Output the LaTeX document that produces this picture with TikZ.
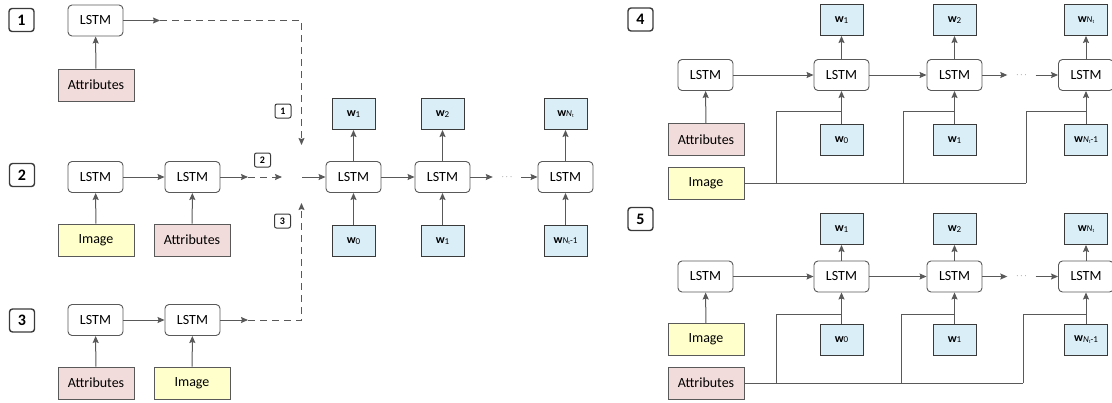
\documentclass[tikz,border=0pt]{standalone}
\usepackage{fontspec}
\setmainfont{Carlito}
\usetikzlibrary{arrows.meta}

\definecolor{edge}{HTML}{595959}
\definecolor{frame}{HTML}{3A3A3A}
\definecolor{attrfill}{HTML}{F2DCDB}
\definecolor{imgfill}{HTML}{FFFFCC}
\definecolor{wfill}{HTML}{DAEEF8}

% word tokens: w with an index
\newcommand{\wl}[1]{\textbf{w}\raisebox{-0.6pt}{\fontsize{9}{10}\selectfont #1}}
\newcommand{\wN}{\textbf{w}\raisebox{-0.6pt}{\fontsize{9}{10}\selectfont\textit{N}\raisebox{-1pt}{\fontsize{5}{6}\selectfont t}}}
\newcommand{\wNm}{\textbf{w}\raisebox{-0.6pt}{\fontsize{9}{10}\selectfont\textit{N}\raisebox{-1pt}{\fontsize{5}{6}\selectfont t}-1}}

\begin{document}
\begin{tikzpicture}[x=1pt,y=-1pt,
  lstm/.style={draw=edge, line width=0.9pt, rounded corners=4pt, fill=white,
    minimum width=55pt, minimum height=31pt, inner sep=0pt,
    font=\fontsize{14}{16}\selectfont},
  attrbox/.style={draw=edge, line width=0.9pt, fill=attrfill,
    minimum width=76pt, minimum height=32pt, inner sep=0pt,
    font=\fontsize{14}{16}\selectfont},
  imgbox/.style={attrbox, fill=imgfill},
  wbox/.style={draw=frame, line width=0.9pt, fill=wfill,
    minimum width=43pt, minimum height=31pt, inner sep=0pt,
    font=\fontsize{12}{14}\selectfont},
  biglab/.style={draw=frame, line width=1.4pt, rounded corners=3pt,
    minimum width=25pt, minimum height=23pt, inner sep=0pt,
    font=\fontsize{16}{18}\selectfont\bfseries},
  smlab/.style={draw=frame, line width=1pt, rounded corners=2pt,
    minimum width=16pt, minimum height=14pt, inner sep=0pt,
    font=\fontsize{10}{12}\selectfont\bfseries},
  dotsnode/.style={minimum width=28pt, inner sep=0pt, text=edge,
    font=\fontsize{9}{10}\selectfont},
  conn/.style={draw=edge, line width=1pt, -{Stealth[length=7pt,width=6pt,inset=1pt]}},
  wire/.style={draw=edge, line width=1pt},
  dashline/.style={draw=edge, line width=1pt, dash pattern=on 7pt off 5pt},
  dasharrow/.style={dashline, -{Stealth[length=7pt,width=6pt,inset=1pt]}}
]
\useasboundingbox (0,0) rectangle (1112,402);

% ---------- variant 1 ----------
\node[biglab] (n1) at (21.5,20) {1};
\node[lstm] (a1l) at (95.5,20.5) {LSTM};
\node[attrbox] (a1a) at (96,85) {Attributes};
\draw[conn] (a1a) -- (a1l);

% ---------- variant 2 ----------
\node[biglab] (n2) at (22,175) {2};
\node[lstm] (a2l1) at (95.5,177) {LSTM};
\node[lstm] (a2l2) at (192.5,177) {LSTM};
\node[imgbox] (a2i) at (96,240) {Image};
\node[attrbox] (a2a) at (192,240) {Attributes};
\draw[conn] (a2i) -- (a2l1);
\draw[conn] (a2a) -- (a2l2);
\draw[conn] (a2l1) -- (a2l2);

% ---------- variant 3 ----------
\node[biglab] (n3) at (22,320.5) {3};
\node[lstm] (a3l1) at (95.5,320) {LSTM};
\node[lstm] (a3l2) at (192.5,320) {LSTM};
\node[attrbox] (a3a) at (96,383) {Attributes};
\node[imgbox] (a3i) at (192,383) {Image};
\draw[conn] (a3a) -- (a3l1);
\draw[conn] (a3i) -- (a3l2);
\draw[conn] (a3l1) -- (a3l2);

% ---------- shared decoder ----------
\node[lstm] (m1) at (353.5,177) {LSTM};
\node[lstm] (m2) at (442.5,177) {LSTM};
\node[lstm] (m3) at (565.5,177) {LSTM};
\node[wbox] (mt1) at (353.5,114) {\wl{1}};
\node[wbox] (mt2) at (442.5,114) {\wl{2}};
\node[wbox] (mt3) at (565.5,114) {\wN};
\node[wbox] (mb1) at (353.5,241) {\wl{0}};
\node[wbox] (mb2) at (442.5,241) {\wl{1}};
\node[wbox] (mb3) at (565.5,241) {\wNm};
\node[dotsnode] (mdots) at (507,177) {$\cdots$};
\foreach \i in {1,2,3}{
  \draw[conn] (m\i) -- (mt\i);
  \draw[conn] (mb\i) -- (m\i);
}
\draw[conn] (m1) -- (m2);
\draw[conn] (m2) -- (mdots);
\draw[conn] (mdots) -- (m3);

% feeds from the three encoders
\coordinate (c1a) at (160,20.5);
\coordinate (c1b) at (301.5,20.5);
\coordinate (c1c) at (301.5,145);
\coordinate (c2a) at (248,177);
\coordinate (c2b) at (282,177);
\coordinate (c2c) at (302,177);
\coordinate (c3a) at (248,320);
\coordinate (c3b) at (301.5,320);
\coordinate (c3c) at (301.5,203);
\draw[conn] (a1l) -- (c1a);
\draw[dasharrow] (c1a) -- (c1b) -- (c1c);
\draw[conn] (a2l2) -- (c2a);
\draw[dasharrow] (c2a) -- (c2b);
\draw[conn] (c2c) -- (m1);
\draw[conn] (a3l2) -- (c3a);
\draw[dasharrow] (c3a) -- (c3b) -- (c3c);
\node[smlab] (s1) at (283,111) {1};
\node[smlab] (s2) at (262.5,160) {2};
\node[smlab] (s3) at (282.5,221) {3};

% ---------- variant 4 ----------
\node[biglab] (n4) at (640.5,19.5) {4};
\node[lstm] (p4l0) at (705.5,75) {LSTM};
\node[attrbox] (p4a) at (706,139.5) {Attributes};
\node[imgbox] (p4i) at (706,183) {Image};
\node[lstm] (p4l1) at (841.5,75) {LSTM};
\node[lstm] (p4l2) at (954.5,75) {LSTM};
\node[lstm] (p4l3) at (1086,75) {LSTM};
\node[wbox] (p4t1) at (841.5,20) {\wl{1}};
\node[wbox] (p4t2) at (954.5,20) {\wl{2}};
\node[wbox] (p4t3) at (1086,20) {\wN};
\node[wbox] (p4b1) at (841.5,140) {\wl{0}};
\node[wbox] (p4b2) at (954.5,140) {\wl{1}};
\node[wbox] (p4b3) at (1086,140) {\wNm};
\node[dotsnode] (p4dots) at (1021.5,75) {$\cdots$};
\draw[conn] (p4a) -- (p4l0);
\draw[conn] (p4l0) -- (p4l1);
\draw[conn] (p4l1) -- (p4l2);
\draw[conn] (p4l2) -- (p4dots);
\draw[conn] (p4dots) -- (p4l3);
\foreach \i in {1,2,3}{
  \draw[conn] (p4l\i) -- (p4t\i);
  \draw[conn] (p4b\i) -- (p4l\i);
}
% image fed into every decoder step
\coordinate (p4lev) at (0,111);
\coordinate (p4j1) at (776,183);
\coordinate (p4j2) at (903,183);
\coordinate (p4j3) at (1026,183);
\draw[wire] (p4i.east) -- (p4j3);
\foreach \i in {1,2,3}{
  \draw[wire] (p4j\i) |- (p4l\i.south |- p4lev);
}

% ---------- variant 5 ----------
\node[biglab] (n5) at (640.5,219) {5};
\node[lstm] (p5l0) at (705.5,276.5) {LSTM};
\node[imgbox] (p5i) at (706,339.5) {Image};
\node[attrbox] (p5a) at (706,383) {Attributes};
\node[lstm] (p5l1) at (841.5,276.5) {LSTM};
\node[lstm] (p5l2) at (954.5,276.5) {LSTM};
\node[lstm] (p5l3) at (1086,276.5) {LSTM};
\node[wbox] (p5t1) at (841.5,229) {\wl{1}};
\node[wbox] (p5t2) at (954.5,229) {\wl{2}};
\node[wbox] (p5t3) at (1086,229) {\wN};
\node[wbox] (p5b1) at (841.5,339.5) {\wl{0}};
\node[wbox] (p5b2) at (954.5,339.5) {\wl{1}};
\node[wbox] (p5b3) at (1086,339.5) {\wNm};
\node[dotsnode] (p5dots) at (1021.5,276.5) {$\cdots$};
\draw[conn] (p5i) -- (p5l0);
\draw[conn] (p5l0) -- (p5l1);
\draw[conn] (p5l1) -- (p5l2);
\draw[conn] (p5l2) -- (p5dots);
\draw[conn] (p5dots) -- (p5l3);
\foreach \i in {1,2,3}{
  \draw[conn] (p5l\i) -- (p5t\i);
  \draw[conn] (p5b\i) -- (p5l\i);
}
% attributes fed into every decoder step
\coordinate (p5lev) at (0,314);
\coordinate (p5j1) at (776,383);
\coordinate (p5j2) at (901,383);
\coordinate (p5j3) at (1023,383);
\draw[wire] (p5a.east) -- (p5j3);
\foreach \i in {1,2,3}{
  \draw[wire] (p5j\i) |- (p5l\i.south |- p5lev);
}
\end{tikzpicture}
\end{document}
